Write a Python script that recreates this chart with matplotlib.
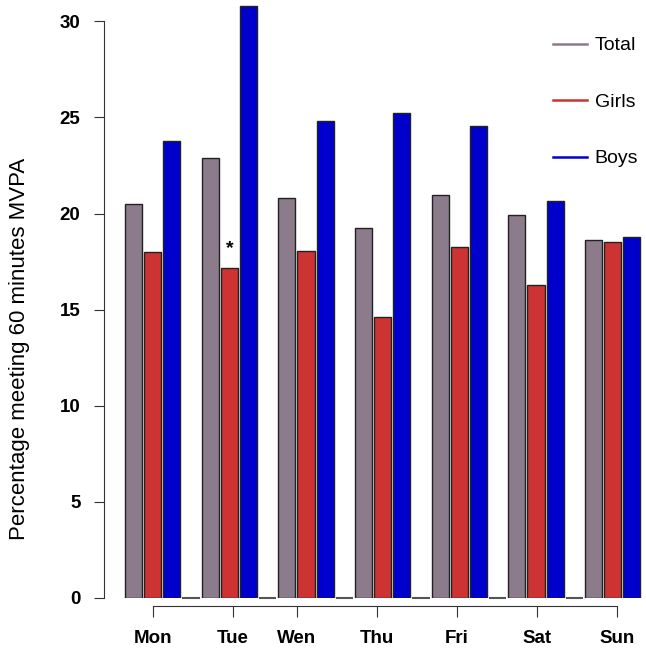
import matplotlib
matplotlib.use("Agg")
import matplotlib.pyplot as plt
import numpy as np

plt.rcParams['font.family'] = ['Liberation Sans', 'DejaVu Sans']

# Values
days = ['Mon', 'Tue', 'Wen', 'Thu', 'Fri', 'Sat', 'Sun']
total = [20.5, 22.9, 20.8, 19.25, 20.95, 19.95, 18.6]
girls = [18.0, 17.15, 18.05, 14.6, 18.25, 16.3, 18.5]
boys = [23.8, 30.8, 24.8, 25.25, 24.55, 20.65, 18.8]
series_names = ['Total', 'Girls', 'Boys']
colors = ['#8B7B8B', '#CD3333', '#0000CD']

# layout: 4 slots per day (3 bars + an empty zero-height bar), as in R barplot
slots = 4
bar_w = 0.89
day_tick_pos = [1.52, 5.69, 9.03, 13.2, 17.37, 21.54, 25.72]

fig = plt.figure(figsize=(6.46, 6.49), dpi=100)
ax = fig.add_axes([104 / 646, 51 / 649, 542 / 646, 598 / 649])

x = np.arange(len(days)) * slots
for j, (vals, col, name) in enumerate(zip([total, girls, boys], colors, series_names)):
    ax.bar(x + j + 0.5, vals, width=bar_w, color=col, edgecolor='#222222',
           linewidth=1.0, label=name)

# zero-height bars between days show up as short flat lines
gap_x = x[:-1] + 3 + 0.5
ax.hlines(np.zeros(len(gap_x)), gap_x - bar_w / 2, gap_x + bar_w / 2,
          color='#555555', linewidth=1.5, clip_on=False)

# significance marker above Tue girls
ax.text(x[1] + 1 + 0.5, 18.2, '*', ha='center', va='center', fontsize=14,
        fontweight='bold')

ax.set_xlim(-1.04, 27.24)
ax.set_ylim(0, 31.11)

for s in ['top', 'right']:
    ax.spines[s].set_visible(False)
ax.spines['left'].set_bounds(0, 30)
ax.spines['bottom'].set_position(('outward', 6))
ax.spines['bottom'].set_bounds(day_tick_pos[0], day_tick_pos[-1])
ax.spines['left'].set_color('#333333')
ax.spines['bottom'].set_color('#333333')

ax.set_yticks([0, 5, 10, 15, 20, 25, 30])
ax.set_xticks(day_tick_pos)
ax.set_xticklabels(days)
ax.tick_params(axis='y', length=7, pad=10, labelsize=13.5, color='#333333')
ax.tick_params(axis='x', length=8, pad=9, labelsize=13.5, color='#333333')
for lab in ax.get_xticklabels() + ax.get_yticklabels():
    lab.set_fontweight('bold')

fig.text(20 / 646, 0.462, 'Percentage meeting 60 minutes MVPA', rotation=90,
         ha='center', va='center', fontsize=16)

# legend drawn with lines like R
handles = [plt.Line2D([], [], color=c, lw=1.8) for c in colors]
fig.legend(handles, series_names, loc='upper left',
           bbox_to_anchor=(545 / 646, 1 - 29 / 649), borderaxespad=0,
           frameon=False, fontsize=14, handlelength=1.75, labelspacing=2.0,
           handletextpad=0.4)

fig.savefig('out.png', dpi=100)
